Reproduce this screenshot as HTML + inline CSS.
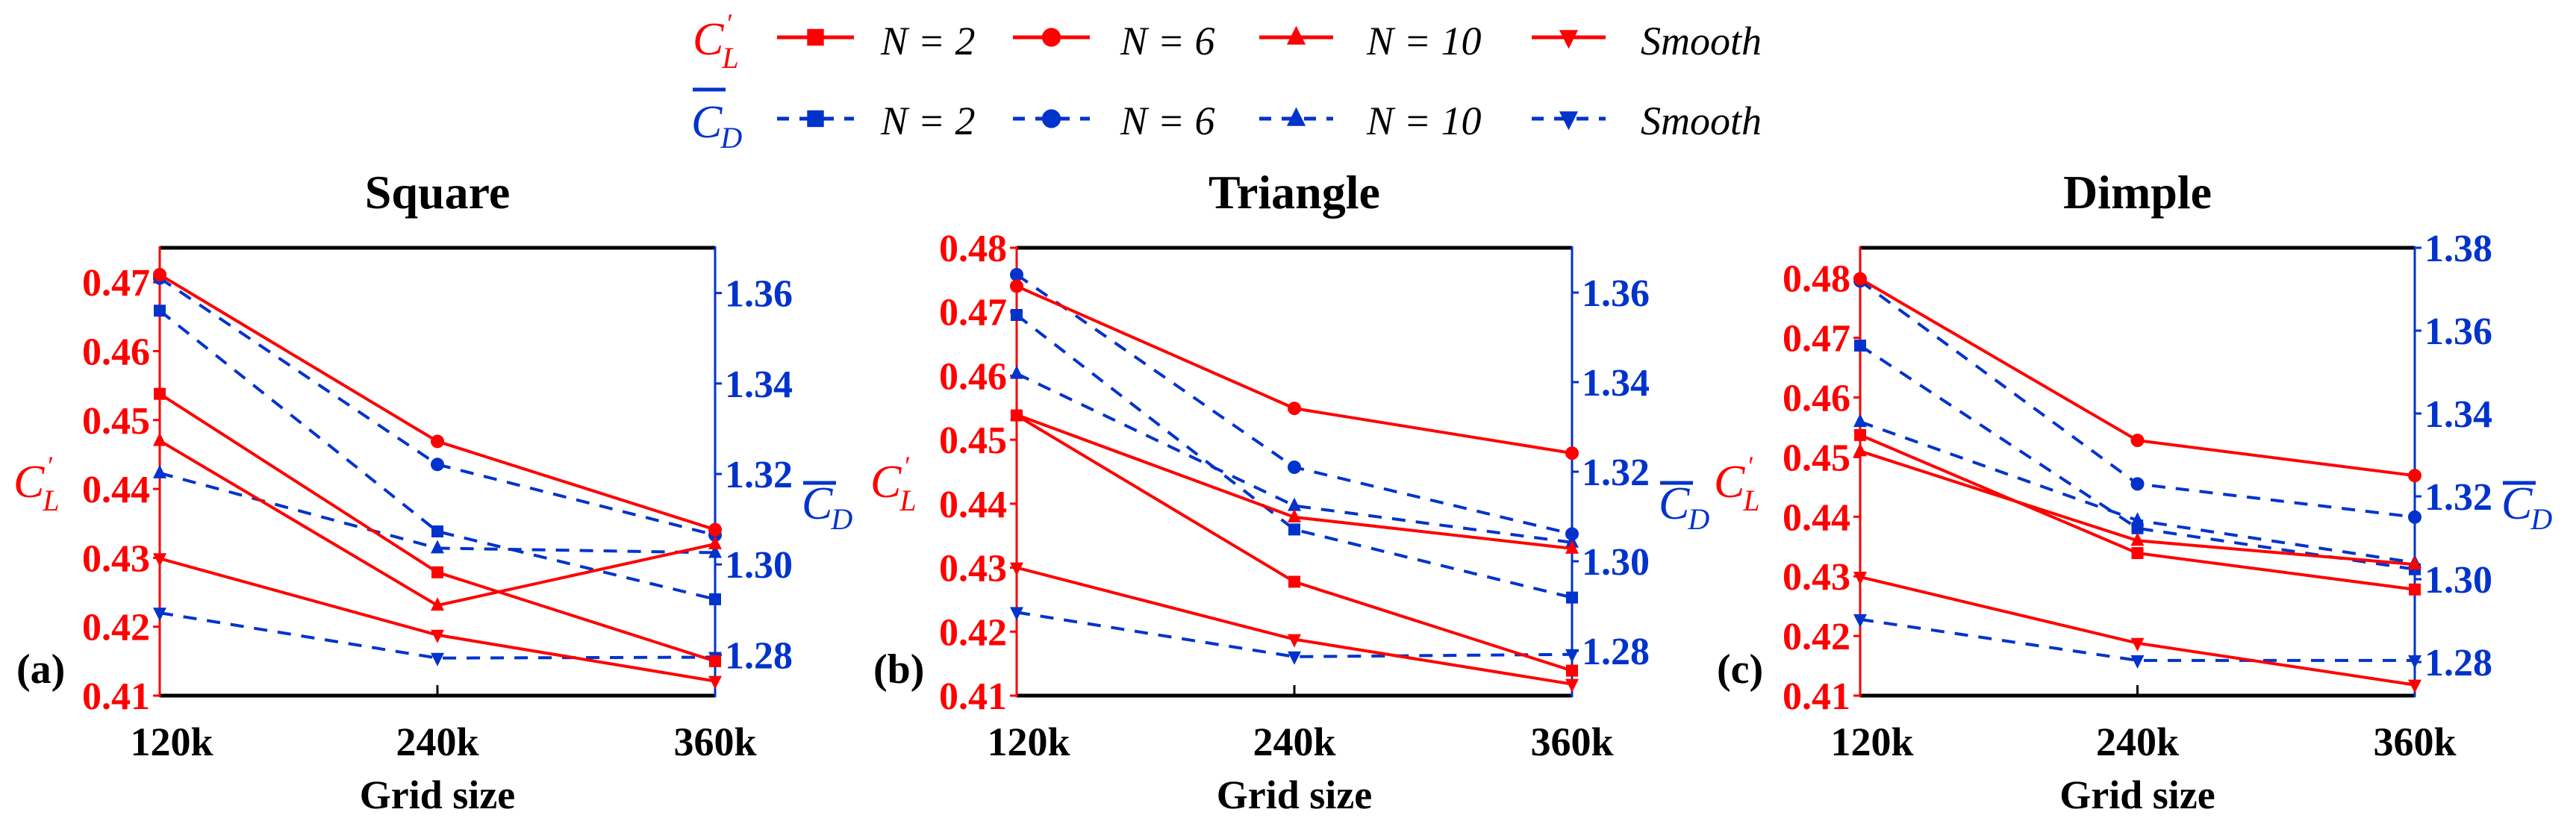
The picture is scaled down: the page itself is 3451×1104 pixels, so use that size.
<!DOCTYPE html>
<html><head><meta charset="utf-8"><style>
html,body{margin:0;padding:0;background:#fff;}
svg, svg text, svg tspan{font-family:"Liberation Serif","Times New Roman",Times,"DejaVu Serif",serif !important;}
</style></head><body>
<svg id="chart" xmlns="http://www.w3.org/2000/svg" width="3451" height="1099" viewBox="0 0 3451 1099">
<g id="legend"></g>
<g id="panels"></g>
</svg>
<script>
const categories = ['120k', '240k', '360k'];
const seriesLabels = ['N = 2', 'N = 6', 'N = 10', 'Smooth'];
const panelTitles = ['Square', 'Triangle', 'Dimple'];
const panelTags = ['(a)', '(b)', '(c)'];

// Square panel
const sqCL_N2 = [0.4538, 0.4279, 0.4150];
const sqCL_N6 = [0.4711, 0.4469, 0.4341];
const sqCL_N10 = [0.4470, 0.4231, 0.4320];
const sqCL_Smooth = [0.4299, 0.4188, 0.4121];
const sqCD_N2 = [1.3561, 1.3073, 1.2923];
const sqCD_N6 = [1.3633, 1.3221, 1.3065];
const sqCD_N10 = [1.3202, 1.3036, 1.3026];
const sqCD_Smooth = [1.2893, 1.2793, 1.2795];
// Triangle panel
const trCL_N2 = [0.4538, 0.4278, 0.4139];
const trCL_N6 = [0.4740, 0.4549, 0.4479];
const trCL_N10 = [0.4539, 0.4379, 0.4330];
const trCL_Smooth = [0.4300, 0.4188, 0.4118];
const trCD_N2 = [1.3550, 1.3071, 1.2919];
const trCD_N6 = [1.3640, 1.3210, 1.3061];
const trCD_N10 = [1.3419, 1.3124, 1.3042];
const trCD_Smooth = [1.2886, 1.2787, 1.2792];
// Dimple panel
const diCL_N2 = [0.4537, 0.4339, 0.4278];
const diCL_N6 = [0.4799, 0.4528, 0.4469];
const diCL_N10 = [0.4510, 0.4360, 0.4320];
const diCL_Smooth = [0.4299, 0.4188, 0.4118];
const diCD_N2 = [1.3564, 1.3123, 1.3024];
const diCD_N6 = [1.3720, 1.3230, 1.3150];
const diCD_N10 = [1.3380, 1.3142, 1.3040];
const diCD_Smooth = [1.2903, 1.2804, 1.2804];

// axis tick labels
const clTicksA = ['0.41', '0.42', '0.43', '0.44', '0.45', '0.46', '0.47'];
const clTicksB = ['0.41', '0.42', '0.43', '0.44', '0.45', '0.46', '0.47', '0.48'];
const clTicksC = ['0.41', '0.42', '0.43', '0.44', '0.45', '0.46', '0.47', '0.48'];
const cdTicksA = ['1.28', '1.30', '1.32', '1.34', '1.36'];
const cdTicksB = ['1.28', '1.30', '1.32', '1.34', '1.36'];
const cdTicksC = ['1.28', '1.30', '1.32', '1.34', '1.36', '1.38'];

const NS = 'http://www.w3.org/2000/svg';
const RED = '#ff0000', BLUE = '#0033cc';
const TOP = 332, BOT = 932;

function mk(tag, attrs, parent) {
  const e = document.createElementNS(NS, tag);
  for (const k in attrs) e.setAttribute(k, attrs[k]);
  if (parent) parent.appendChild(e);
  return e;
}

function marker(parent, type, x, y, color) {
  let e;
  if (type === 0) e = mk('rect', {x: x - 8, y: y - 8, width: 16, height: 16, fill: color}, parent);
  else if (type === 1) e = mk('circle', {cx: x, cy: y, r: 9, fill: color}, parent);
  else if (type === 2) e = mk('polygon', {points: `${x},${y - 11} ${x - 9},${y + 7} ${x + 9},${y + 7}`, fill: color}, parent);
  else e = mk('polygon', {points: `${x},${y + 11} ${x - 9},${y - 7} ${x + 9},${y - 7}`, fill: color}, parent);
  return e;
}

// ---------- Legend ----------
const legend = document.getElementById('legend');
const legX = [[1041, 1144, 1180], [1357, 1460, 1501], [1687, 1786, 1831], [2052, 2151, 2198]];
function legendSymbolCL(g, x, base) {
  const t = mk('text', {x: x, y: base, fill: RED, 'font-size': 62, 'font-style': 'italic'}, g);
  t.textContent = 'C';
  const s = mk('tspan', {dx: -2, dy: 18, 'font-size': 40}, t); s.textContent = 'L';
  const p = mk('text', {x: x + 44, y: base - 30, fill: RED, 'font-size': 36, 'font-style': 'italic'}, g);
  p.textContent = '′';
}
function legendSymbolCD(g, x, base, barY) {
  mk('line', {x1: x + 2, x2: x + 46, y1: barY, y2: barY, stroke: BLUE, 'stroke-width': 5}, g);
  const t = mk('text', {x: x, y: base, fill: BLUE, 'font-size': 62, 'font-style': 'italic'}, g);
  t.textContent = 'C';
  const s = mk('tspan', {dx: -2, dy: 14, 'font-size': 40}, t); s.textContent = 'D';
}
const lgTitle1 = mk('g', {}, legend);


legendSymbolCL(lgTitle1, 928, 73);
const lgTitle2 = mk('g', {}, legend);


legendSymbolCD(lgTitle2, 926, 184, 120);

for (let row = 0; row < 2; row++) {
  const color = row === 0 ? RED : BLUE;
  const ly = row === 0 ? 50 : 159;
  const base = row === 0 ? 73 : 180;
  for (let i = 0; i < 4; i++) {
    const g = mk('g', {}, legend);
    
    
    const [x1, x2, tx] = legX[i];
    const la = {x1: x1, x2: x2, y1: ly, y2: ly, stroke: color, 'stroke-width': 5};
    if (row === 1) la['stroke-dasharray'] = '16 14';
    mk('line', la, g);
    const mm = marker(g, i, (x1 + x2) / 2, ly, color);
    mm.setAttribute('transform', `translate(${(x1 + x2) / 2},${ly}) scale(1.4) translate(${-(x1 + x2) / 2},${-ly})`);
    const t = mk('text', {x: tx, y: base, 'font-size': 54, 'font-style': 'italic', fill: '#000'}, g);
    t.textContent = seriesLabels[i];
  }
}

// ---------- Panels ----------
const panels = [
  {left: 214, right: 958, clMin: 0.41, clMax: 0.475, cdMin: 1.271, cdMax: 1.370, clTicks: clTicksA, cdTicks: cdTicksA,
   cl: [sqCL_N2, sqCL_N6, sqCL_N10, sqCL_Smooth], cd: [sqCD_N2, sqCD_N6, sqCD_N10, sqCD_Smooth]},
  {left: 1362, right: 2106, clMin: 0.41, clMax: 0.48, cdMin: 1.270, cdMax: 1.370, clTicks: clTicksB, cdTicks: cdTicksB,
   cl: [trCL_N2, trCL_N6, trCL_N10, trCL_Smooth], cd: [trCD_N2, trCD_N6, trCD_N10, trCD_Smooth]},
  {left: 2492, right: 3235, clMin: 0.41, clMax: 0.4851, cdMin: 1.2719, cdMax: 1.38, clTicks: clTicksC, cdTicks: cdTicksC,
   cl: [diCL_N2, diCL_N6, diCL_N10, diCL_Smooth], cd: [diCD_N2, diCD_N6, diCD_N10, diCD_Smooth]}
];
const panelRoot = document.getElementById('panels');
const seriesKeys = ['n2', 'n6', 'n10', 'smooth'];

panels.forEach((p, pi) => {
  const g = mk('g', {}, panelRoot);
  
  
  const xS = i => p.left + (p.right - p.left) * i / (categories.length - 1);
  const yL = v => BOT - (v - p.clMin) / (p.clMax - p.clMin) * (BOT - TOP);
  const yR = v => BOT - (v - p.cdMin) / (p.cdMax - p.cdMin) * (BOT - TOP);
  const cx = (p.left + p.right) / 2;

  const title = mk('text', {x: cx, y: 279, 'text-anchor': 'middle', 'font-size': 64, 'font-weight': 'bold'}, g);
  
  
  title.textContent = panelTitles[pi];

  const frame = mk('g', {}, g);
  
  
  mk('line', {x1: p.left, x2: p.right, y1: TOP, y2: TOP, stroke: '#000', 'stroke-width': 5}, frame);
  mk('line', {x1: p.left, x2: p.right, y1: BOT, y2: BOT, stroke: '#000', 'stroke-width': 5}, frame);
  mk('line', {x1: p.left, x2: p.left, y1: TOP - 2, y2: BOT + 2, stroke: RED, 'stroke-width': 3}, frame);
  mk('line', {x1: p.right, x2: p.right, y1: TOP - 2, y2: BOT + 2, stroke: BLUE, 'stroke-width': 3}, frame);
  mk('line', {x1: cx, x2: cx, y1: BOT, y2: BOT - 14, stroke: '#000', 'stroke-width': 3}, frame);

  const lax = mk('g', {}, g);
  
  
  p.clTicks.forEach(s => {
    const y = yL(parseFloat(s));
    mk('line', {x1: p.left - 9, x2: p.left, y1: y, y2: y, stroke: RED, 'stroke-width': 3}, lax);
    const t = mk('text', {x: p.left - 13, y: y + 18, 'text-anchor': 'end', 'font-size': 52, 'font-weight': 'bold', fill: RED}, lax);
    t.textContent = s;
  });
  const rax = mk('g', {}, g);
  
  
  p.cdTicks.forEach(s => {
    const y = yR(parseFloat(s));
    mk('line', {x1: p.right, x2: p.right + 9, y1: y, y2: y, stroke: BLUE, 'stroke-width': 3}, rax);
    const t = mk('text', {x: p.right + 13, y: y + 18, 'font-size': 52, 'font-weight': 'bold', fill: BLUE}, rax);
    t.textContent = s;
  });
  const xax = mk('g', {}, g);
  
  
  categories.forEach((c, i) => {
    const t = mk('text', {x: xS(i) + (i === 0 ? 16 : 0), y: 1012, 'text-anchor': 'middle', 'font-size': 54, 'font-weight': 'bold'}, xax);
    t.textContent = c;
  });
  const xt = mk('text', {x: cx, y: 1083, 'text-anchor': 'middle', 'font-size': 54, 'font-weight': 'bold'}, g);
  
  
  xt.textContent = 'Grid size';

  const tag = mk('text', {x: p.left - 192, y: 915, 'font-size': 56, 'font-weight': 'bold'}, g);
  
  
  tag.textContent = panelTags[pi];

  const ylt = mk('g', {}, g);
  
  
  legendSymbolCL(ylt, p.left - 196, 666);
  const yrt = mk('g', {}, g);
  
  
  legendSymbolCD(yrt, p.right + 116, 695, 647);

  p.cd.forEach((arr, si) => {
    const sg = mk('g', {}, g);
    
    
    const pts = arr.map((v, i) => xS(i) + ',' + yR(v)).join(' ');
    mk('polyline', {points: pts, fill: 'none', stroke: BLUE, 'stroke-width': 4, 'stroke-dasharray': '18 14'}, sg);
    arr.forEach((v, i) => {
      const m = marker(sg, si, xS(i), yR(v), BLUE);
      
      
    });
  });
  p.cl.forEach((arr, si) => {
    const sg = mk('g', {}, g);
    
    
    const pts = arr.map((v, i) => xS(i) + ',' + yL(v)).join(' ');
    mk('polyline', {points: pts, fill: 'none', stroke: RED, 'stroke-width': 4}, sg);
    arr.forEach((v, i) => {
      const m = marker(sg, si, xS(i), yL(v), RED);
      
      
    });
  });
});
</script>
</body></html>
